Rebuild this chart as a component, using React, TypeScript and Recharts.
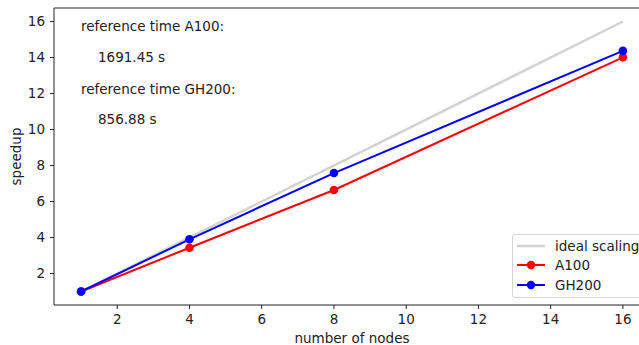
import { LineChart, Line, XAxis, YAxis, ReferenceLine } from 'recharts'

const nodes = [1, 4, 8, 16]
const a100Speedup = [1, 3.43, 6.64, 14.01]
const gh200Speedup = [1, 3.9, 7.58, 14.37]
const idealNodes = [1, 16]
const xTicks = [2, 4, 6, 8, 10, 12, 14, 16]
const yTicks = [2, 4, 6, 8, 10, 12, 14, 16]
const notes = ['reference time A100:', '1691.45 s', 'reference time GH200:', '856.88 s']

const FONT = '"DejaVu Sans", sans-serif'
const INK = '#222'

const a100Data = nodes.map((n, i) => ({ n, v: a100Speedup[i] }))
const gh200Data = nodes.map((n, i) => ({ n, v: gh200Speedup[i] }))
const idealData = idealNodes.map((n) => ({ n, v: n }))

const LEGEND_ITEMS = [
  { label: 'ideal scaling', color: '#d3d3d3', width: 2.5, dot: false },
  { label: 'A100', color: '#ff0000', width: 2, dot: true },
  { label: 'GH200', color: '#0000ff', width: 2, dot: true },
]

// matplotlib-style framed legend, lower right
function BoxLegend() {
  return (
    <div
      style={{
        position: 'absolute',
        left: 512,
        top: 234,
        width: 160,
        height: 64,
        background: 'rgba(255,255,255,0.85)',
        border: '1px solid #d5d5d5',
        borderRadius: 3,
        padding: '1px 8px 0 3px',
        fontSize: 13.5,
        color: INK,
        boxSizing: 'border-box',
      }}
    >
      {LEGEND_ITEMS.map((item) => (
        <div key={item.label} style={{ display: 'flex', alignItems: 'center', height: 19.5 }}>
          <svg width={30} height={12} style={{ marginRight: 9 }}>
            <line x1={1} x2={29} y1={6} y2={6} stroke={item.color} strokeWidth={item.width} />
            {item.dot && <circle cx={15} cy={6} r={4.2} fill={item.color} />}
          </svg>
          <span>{item.label}</span>
        </div>
      ))}
    </div>
  )
}

const notePos = [
  { left: 81, top: 27 },
  { left: 98, top: 58 },
  { left: 81, top: 89.5 },
  { left: 98, top: 120 },
]

export default function App() {
  return (
    <div
      style={{
        position: 'fixed',
        left: 0,
        top: 0,
        width: 639,
        height: 345,
        overflow: 'hidden',
        background: '#fff',
        fontFamily: FONT,
      }}
    >
      <LineChart width={660} height={345} margin={{ top: 8, right: 10, bottom: 0, left: 0 }}>
        <XAxis
          dataKey="n"
          type="number"
          domain={[0.25, 16.75]}
          ticks={xTicks}
          allowDataOverflow
          height={40}
          tickSize={4}
          tickMargin={5}
          stroke={INK}
          tick={{ fill: INK, fontSize: 13.5, fontFamily: FONT }}
          label={{ value: 'number of nodes', position: 'insideBottom', offset: 2, fill: INK, fontSize: 13.5, fontFamily: FONT }}
        />
        <YAxis
          dataKey="v"
          type="number"
          domain={[0.25, 16.75]}
          ticks={yTicks}
          allowDataOverflow
          width={54}
          tickSize={4}
          tickMargin={5}
          stroke={INK}
          tick={{ fill: INK, fontSize: 13.5, fontFamily: FONT }}
          label={{
            value: 'speedup',
            angle: -90,
            position: 'insideLeft',
            offset: 16,
            fill: INK,
            fontSize: 13.5,
            fontFamily: FONT,
            style: { textAnchor: 'middle' },
          }}
        />
        <ReferenceLine y={16.75} stroke={INK} strokeWidth={1} />
        <Line
          data={idealData}
          dataKey="v"
          name="ideal scaling"
          stroke="#d3d3d3"
          strokeWidth={2.5}
          dot={false}
          isAnimationActive={false}
        />
        <Line
          data={a100Data}
          dataKey="v"
          name="A100"
          stroke="#ff0000"
          strokeWidth={2}
          dot={{ r: 4.3, fill: '#ff0000', stroke: 'none' }}
          isAnimationActive={false}
        />
        <Line
          data={gh200Data}
          dataKey="v"
          name="GH200"
          stroke="#0000ff"
          strokeWidth={2}
          dot={{ r: 4.3, fill: '#0000ff', stroke: 'none' }}
          isAnimationActive={false}
        />
      </LineChart>
      <BoxLegend />
      {notes.map((t, i) => (
        <div
          key={t}
          style={{
            position: 'absolute',
            left: notePos[i].left,
            top: notePos[i].top,
            transform: 'translateY(-50%)',
            fontSize: 13.5,
            color: INK,
            whiteSpace: 'nowrap',
            lineHeight: 1,
          }}
        >
          {t}
        </div>
      ))}
    </div>
  )
}
